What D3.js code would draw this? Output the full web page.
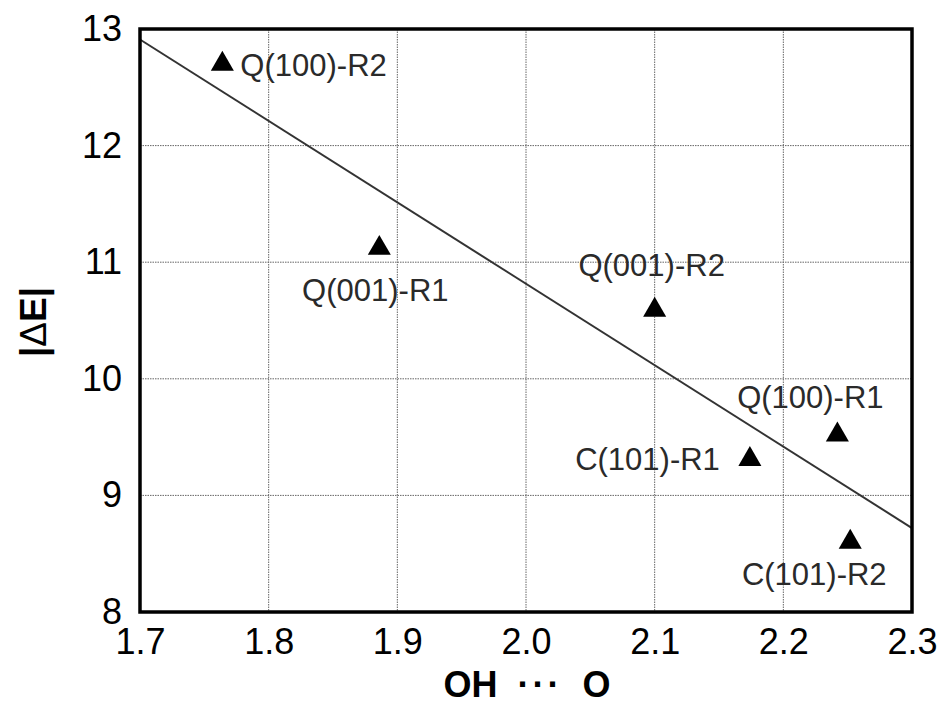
<!DOCTYPE html>
<html><head><meta charset="utf-8">
<script src="https://cdn.jsdelivr.net/npm/d3@7"></script>
<style>body{margin:0;background:#fff}svg{display:block}text{font-family:"Liberation Sans",Arial,sans-serif;fill:#000}</style>
</head><body><svg id="c" width="940" height="706"></svg>
<script>
const names = ["Q(100)-R2","Q(001)-R1","Q(001)-R2","C(101)-R1","Q(100)-R1","C(101)-R2"];
const xVals = [1.764, 1.886, 2.100, 2.174, 2.242, 2.252];
const yVals = [12.70, 11.12, 10.59, 9.31, 9.52, 8.60];
const trendX = [1.7, 2.3];
const trendY = [12.91, 8.72];
const xTicks = [1.7,1.8,1.9,2.0,2.1,2.2,2.3];
const yTicks = [8,9,10,11,12,13];

// label layout (pixel offsets, anchor)
const labelLayout = {
  "Q(100)-R2": {dx: 18, dy: 2, anchor: "start"},
  "Q(001)-R1": {dx: -4, dy: 42, anchor: "middle"},
  "Q(001)-R2": {dx: -3, dy: -45, anchor: "middle"},
  "C(101)-R1": {dx: -30, dy: 0, anchor: "end"},
  "Q(100)-R1": {dx: -27, dy: -37, anchor: "middle"},
  "C(101)-R2": {dx: -36, dy: 32, anchor: "middle"}
};

const svg = d3.select("#c");
const L=140, R=912, T=29, B=612;
const x = d3.scaleLinear().domain([1.7,2.3]).range([L,R]);
const y = d3.scaleLinear().domain([8,13]).range([B,T]);

// grid
const g = svg.append("g");
g.selectAll(".vg").data(xTicks.slice(1,-1)).join("line")
  .attr("x1",d=>x(d)).attr("x2",d=>x(d)).attr("y1",T).attr("y2",B)
  .attr("stroke","#666").attr("stroke-width",1).attr("stroke-dasharray","1.5,1");
g.selectAll(".hg").data(yTicks.slice(1,-1)).join("line")
  .attr("y1",d=>y(d)).attr("y2",d=>y(d)).attr("x1",L).attr("x2",R)
  .attr("stroke","#666").attr("stroke-width",1).attr("stroke-dasharray","1.5,1");

// trend line
svg.append("line")
  .attr("x1",x(trendX[0])).attr("y1",y(trendY[0]))
  .attr("x2",x(trendX[1])).attr("y2",y(trendY[1]))
  .attr("stroke","#333").attr("stroke-width",2);

// frame
svg.append("rect").attr("x",L).attr("y",T).attr("width",R-L).attr("height",B-T)
  .attr("fill","none").attr("stroke","#000").attr("stroke-width",3.5);

// axes tick labels via d3 axes
const xAxis = svg.append("g").attr("transform",`translate(0,${B})`)
  .call(d3.axisBottom(x).tickValues(xTicks).tickFormat(d3.format(".1f")).tickSize(0).tickPadding(16));
xAxis.select(".domain").remove();
xAxis.selectAll("text").style("font-size","36px").attr("fill","#000");

const yAxis = svg.append("g").attr("transform",`translate(${L},0)`)
  .call(d3.axisLeft(y).tickValues(yTicks).tickFormat(d3.format("d")).tickSize(0).tickPadding(18));
yAxis.select(".domain").remove();
yAxis.selectAll("text").style("font-size","36px").attr("fill","#000");

// points
const pts = names.map((n,i)=>({n, x:xVals[i], y:yVals[i]}));
svg.selectAll(".pt").data(pts).join("path")
  .attr("d", d3.symbol(d3.symbolTriangle, 230))
  .attr("transform", d=>`translate(${x(d.x)},${y(d.y)})`)
  .attr("fill","#000");

svg.selectAll(".lb").data(pts).join("text")
  .attr("x", d=>x(d.x)+labelLayout[d.n].dx)
  .attr("y", d=>y(d.y)+labelLayout[d.n].dy)
  .attr("text-anchor", d=>labelLayout[d.n].anchor)
  .attr("dominant-baseline","central")
  .style("font-size","31px").style("fill","#2a2a2a")
  .text(d=>d.n);

// axis titles
const xt = svg.append("text").attr("x",527).attr("y",697).attr("text-anchor","middle")
  .style("font-size","36px").style("font-weight","bold");
xt.append("tspan").text("OH\u00a0\u00a0");
xt.append("tspan").style("letter-spacing","3px").text("\u00b7\u00b7\u00b7");
xt.append("tspan").text("\u00a0\u00a0O");

const yt = svg.append("text").attr("transform","translate(46,322) rotate(-90)")
  .attr("text-anchor","middle").style("font-size","37px").style("font-weight","bold");
yt.append("tspan").text("|");
yt.append("tspan").style("font-weight","normal").text("\u0394");
yt.append("tspan").text("E|");
</script></body></html>
